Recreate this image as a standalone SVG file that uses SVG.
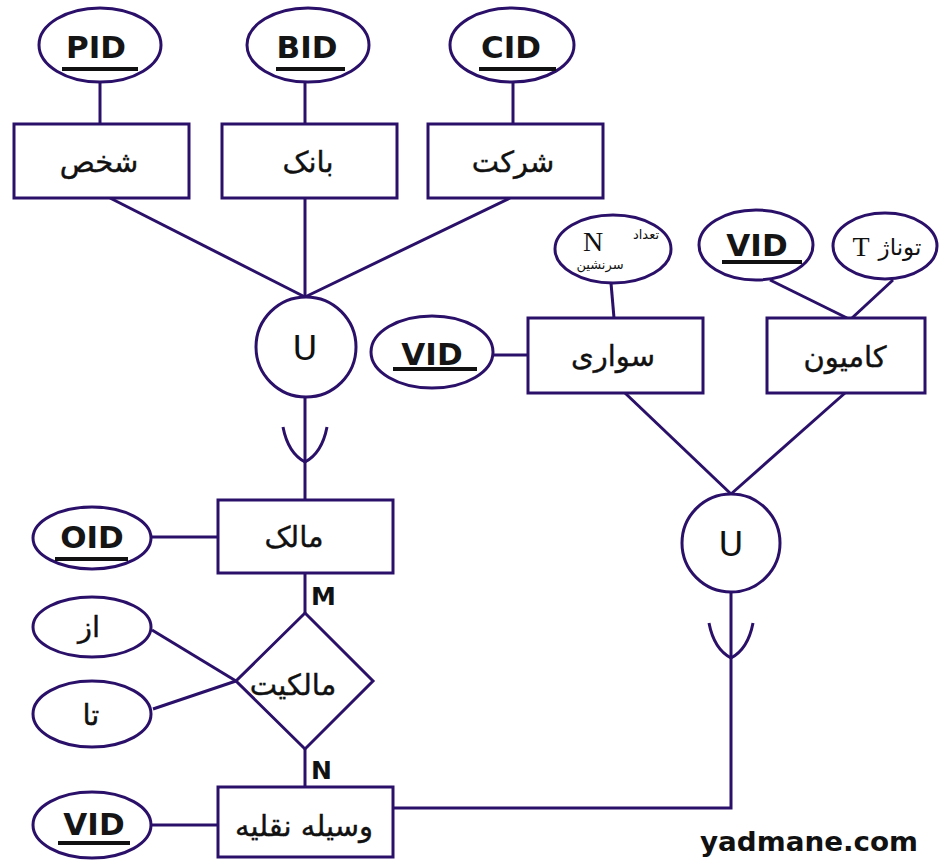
<svg xmlns="http://www.w3.org/2000/svg" width="947" height="861" viewBox="0 0 947 861">
<defs>
<style>
.s{fill:#fff;stroke:#2a1068;stroke-width:3}
.l{fill:none;stroke:#2a1068;stroke-width:3}
.ul{stroke:#111;stroke-width:4}
.k{font-family:"DejaVu Sans",sans-serif;font-weight:bold;font-size:31px;fill:#151515;text-anchor:middle}
.fa{font-family:"DejaVu Sans",sans-serif;font-size:29px;fill:#111;stroke:#111;stroke-width:0.4;text-anchor:middle}
.u{font-family:"DejaVu Sans",sans-serif;font-size:34px;fill:#111;text-anchor:middle}
.c{font-family:"DejaVu Sans",sans-serif;font-weight:bold;font-size:25px;fill:#111}
</style>
</defs>
<rect width="947" height="861" fill="#fff"/>
<g id="connectors">
<line class="l" x1="100" y1="82" x2="100" y2="124"/>
<line class="l" x1="305" y1="82" x2="305" y2="124"/>
<line class="l" x1="513" y1="82" x2="513" y2="124"/>
<line class="l" x1="110" y1="198" x2="305" y2="297"/>
<line class="l" x1="305" y1="198" x2="305" y2="297"/>
<line class="l" x1="510" y1="198" x2="305" y2="297"/>
<line class="l" x1="305" y1="397" x2="305" y2="500"/>
<path class="l" d="M283 427 Q288 453 305 462 Q322 453 327 427"/>
<line class="l" x1="152" y1="537" x2="218" y2="537"/>
<line class="l" x1="305" y1="573" x2="305" y2="613"/>
<line class="l" x1="152" y1="630" x2="236" y2="681"/>
<line class="l" x1="153" y1="709" x2="236" y2="681"/>
<line class="l" x1="305" y1="749" x2="305" y2="787"/>
<line class="l" x1="152" y1="825" x2="218" y2="825"/>
<line class="l" x1="493" y1="355" x2="528" y2="355"/>
<line class="l" x1="611" y1="283" x2="614" y2="318"/>
<line class="l" x1="770" y1="280" x2="847" y2="318"/>
<line class="l" x1="893" y1="280" x2="852" y2="318"/>
<line class="l" x1="625" y1="393" x2="731" y2="494"/>
<line class="l" x1="845" y1="393" x2="731" y2="494"/>
<polyline class="l" points="731,592 731,808 392,808"/>
<path class="l" d="M709 623 Q714 649 731 658 Q748 649 753 623"/>
</g>
<g id="pid"><ellipse class="s" cx="100" cy="45" rx="61" ry="37"/><text class="k" x="96" y="58">PID</text><line class="ul" x1="62" y1="69" x2="138" y2="69"/></g>
<g id="bid"><ellipse class="s" cx="308" cy="45" rx="61" ry="37"/><text class="k" x="307" y="58">BID</text><line class="ul" x1="276" y1="69" x2="345" y2="69"/></g>
<g id="cid"><ellipse class="s" cx="512" cy="45" rx="62" ry="37"/><text class="k" x="511" y="58">CID</text><line class="ul" x1="479" y1="69" x2="556" y2="69"/></g>
<g id="shakhs"><rect class="s" x="14" y="124" width="175" height="74"/><text class="fa" x="99" y="172">شخص</text></g>
<g id="bank"><rect class="s" x="222" y="124" width="175" height="74"/><text class="fa" x="308" y="172">بانک</text></g>
<g id="sherkat"><rect class="s" x="428" y="124" width="175" height="74"/><text class="fa" x="513" y="172">شرکت</text></g>
<g id="union1"><circle class="s" cx="306" cy="347" r="50"/><text class="u" x="305" y="360">U</text></g>
<g id="malek"><rect class="s" x="218" y="500" width="175" height="73"/><text class="fa" x="294" y="547">مالک</text></g>
<g id="oid"><ellipse class="s" cx="92" cy="538" rx="59" ry="31"/><text class="k" x="92" y="548">OID</text><line class="ul" x1="55" y1="559" x2="128" y2="559"/></g>
<g id="az"><ellipse class="s" cx="92" cy="627" rx="59" ry="30"/><text class="fa" x="89" y="637">از</text></g>
<g id="ta"><ellipse class="s" cx="92" cy="714" rx="59" ry="33"/><text class="fa" x="91" y="725">تا</text></g>
<g id="malekiat"><polygon class="s" points="305,613 373,681 305,749 236,681"/><text class="fa" x="293" y="695">مالکیت</text></g>
<text class="c" x="311" y="605">M</text>
<text class="c" x="311" y="779">N</text>
<g id="vasile"><rect class="s" x="218" y="787" width="175" height="70"/><text class="fa" x="304" y="836">وسیله نقلیه</text></g>
<g id="vid1"><ellipse class="s" cx="92" cy="825" rx="59" ry="33"/><text class="k" x="94" y="835">VID</text><line class="ul" x1="58" y1="843" x2="130" y2="843"/></g>
<g id="vid2"><ellipse class="s" cx="432" cy="352" rx="61" ry="36"/><text class="k" x="432" y="365">VID</text><line class="ul" x1="393" y1="369" x2="477" y2="369"/></g>
<g id="savari"><rect class="s" x="528" y="318" width="175" height="75"/><text class="fa" x="613" y="366">سواری</text></g>
<g id="nsar"><ellipse class="s" cx="613" cy="249" rx="58" ry="34"/><text x="593" y="251" font-family="Liberation Serif,serif" font-size="28" fill="#111" text-anchor="middle">N</text><text x="646" y="239" font-family="DejaVu Sans,sans-serif" font-size="13" fill="#111" text-anchor="middle">تعداد</text><text x="600" y="269" font-family="DejaVu Sans,sans-serif" font-size="13" fill="#111" text-anchor="middle">سرنشین</text></g>
<g id="vid3"><ellipse class="s" cx="756" cy="245" rx="57" ry="35"/><text class="k" x="757" y="256">VID</text><line class="ul" x1="722" y1="262" x2="802" y2="262"/></g>
<g id="tonaj"><ellipse class="s" cx="885" cy="246" rx="52" ry="33"/><text x="861" y="256" font-family="Liberation Serif,serif" font-size="28" fill="#111" text-anchor="middle">T</text><text x="900" y="255" font-family="DejaVu Sans,sans-serif" font-size="23" fill="#111" text-anchor="middle">توناژ</text></g>
<g id="kamion"><rect class="s" x="767" y="318" width="158" height="75"/><text class="fa" x="845" y="367">کامیون</text></g>
<g id="union2"><circle class="s" cx="731" cy="543" r="49"/><text class="u" x="731" y="556">U</text></g>
<text x="700" y="851" font-family="DejaVu Sans,sans-serif" font-weight="bold" font-size="26" fill="#111" textLength="218" lengthAdjust="spacingAndGlyphs">yadmane.com</text>
</svg>
